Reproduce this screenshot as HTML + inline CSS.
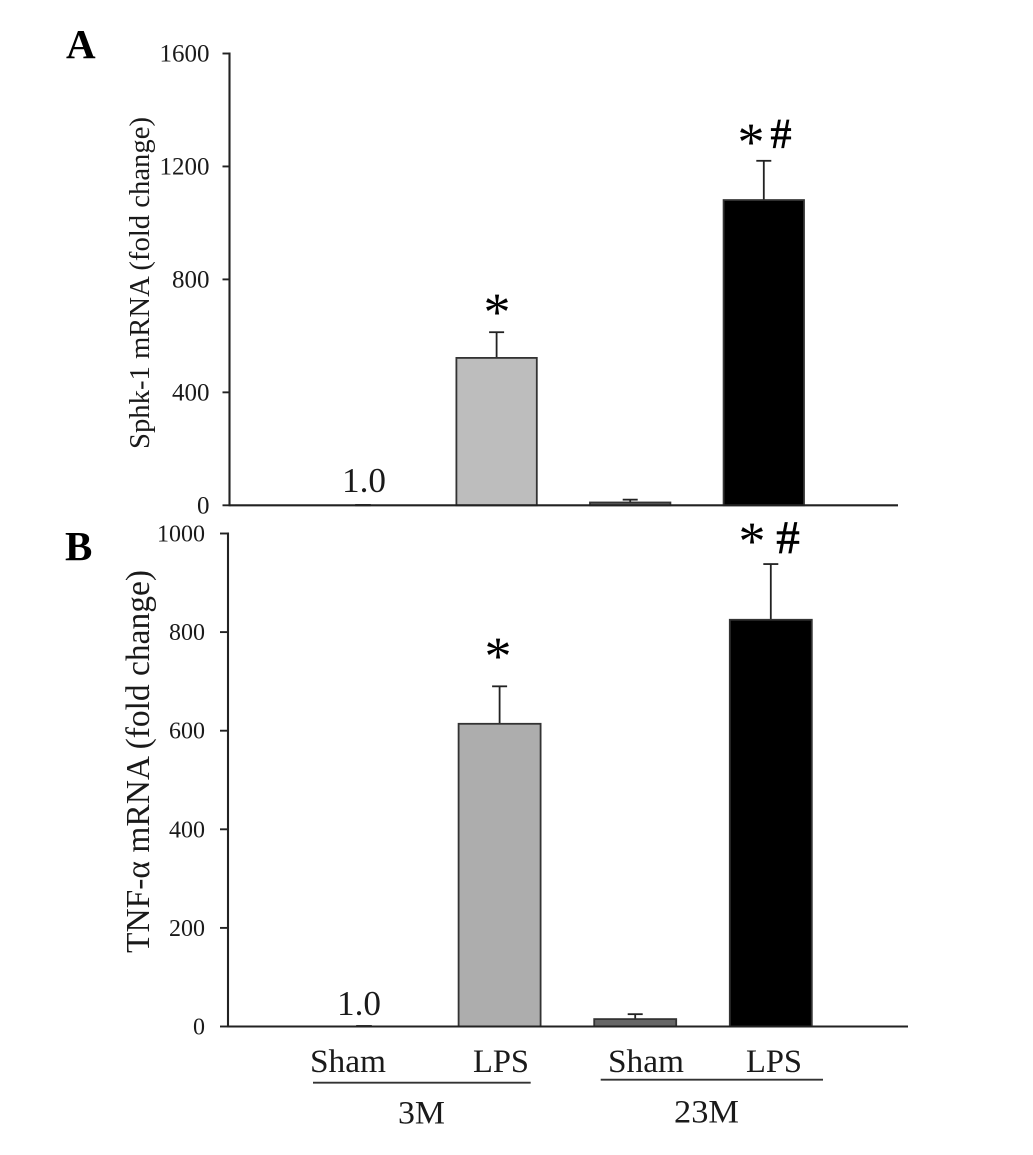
<!DOCTYPE html>
<html>
<head>
<meta charset="utf-8">
<style>
html,body{margin:0;padding:0;background:#fff;width:1033px;height:1155px;overflow:hidden}
svg{display:block;font-family:"Liberation Serif",serif}
text{fill:#1a1a1a}
</style>
</head>
<body>
<svg id="chart" xmlns="http://www.w3.org/2000/svg" width="1033" height="1155" viewBox="0 0 1033 1155">
  <text x="66" y="58" font-size="41" font-weight="bold" style="fill:#000">A</text>
  <text x="65" y="560" font-size="41" font-weight="bold" style="fill:#000">B</text>

  <text transform="translate(149,449) rotate(-90)" font-size="29" textLength="332" lengthAdjust="spacingAndGlyphs">Sphk-1 mRNA (fold change)</text>
  <text transform="translate(149,953) rotate(-90)" font-size="34" textLength="383" lengthAdjust="spacingAndGlyphs">TNF-α mRNA (fold change)</text>

  <text x="342" y="492" font-size="35" textLength="44" lengthAdjust="spacingAndGlyphs">1.0</text>
  <text x="337" y="1015" font-size="35" textLength="44" lengthAdjust="spacingAndGlyphs">1.0</text>

  <text x="497" y="330" font-size="54" text-anchor="middle" style="fill:#000">*</text>
  <text x="751" y="160" font-size="54" text-anchor="middle" style="fill:#000">*</text>
  <text x="781" y="148" font-size="42" text-anchor="middle" stroke="#000" stroke-width="0.7" style="fill:#000">#</text>
  <text x="498" y="674" font-size="54" text-anchor="middle" style="fill:#000">*</text>
  <text x="752" y="559" font-size="54" text-anchor="middle" style="fill:#000">*</text>
  <text x="788" y="553" font-size="47" text-anchor="middle" stroke="#000" stroke-width="0.7" style="fill:#000">#</text>

  <text x="310" y="1072" font-size="33" textLength="76" lengthAdjust="spacingAndGlyphs">Sham</text>
  <text x="473" y="1072" font-size="33" textLength="56" lengthAdjust="spacingAndGlyphs">LPS</text>
  <text x="608" y="1072" font-size="33" textLength="76" lengthAdjust="spacingAndGlyphs">Sham</text>
  <text x="746" y="1072" font-size="33" textLength="56" lengthAdjust="spacingAndGlyphs">LPS</text>
  <line x1="313" y1="1082.7" x2="530.7" y2="1082.7" stroke="#333" stroke-width="1.8"/>
  <line x1="600.7" y1="1079.7" x2="823" y2="1079.7" stroke="#333" stroke-width="1.8"/>
  <text x="398" y="1123.5" font-size="33" textLength="47" lengthAdjust="spacingAndGlyphs">3M</text>
  <text x="674" y="1122.7" font-size="33" textLength="65" lengthAdjust="spacingAndGlyphs">23M</text>
</svg>
<script>
var groupNames = ['sham-3m', 'lps-3m', 'sham-23m', 'lps-23m'];

var sphkValues = [1, 522, 10, 1081];
var sphkErrorTops = [1, 613, 20, 1220];
var sphkTickLabels = [0, 400, 800, 1200, 1600];
var sphkColors = ['#808080', '#bdbdbd', '#666666', '#000000'];

var tnfValues = [1, 614, 15, 825];
var tnfErrorTops = [1, 690, 25, 938];
var tnfTickLabels = [0, 200, 400, 600, 800, 1000];
var tnfColors = ['#808080', '#adadad', '#666666', '#000000'];

var NS = 'http://www.w3.org/2000/svg';
var svg = document.getElementById('chart');

function make(tag, attrs) {
  var el = document.createElementNS(NS, tag);
  for (var k in attrs) el.setAttribute(k, attrs[k]);
  svg.appendChild(el);
  return el;
}

function drawPanel(p) {
  function y(v) { return p.y0 - (v / p.max) * (p.y0 - p.y1); }
  function cx(i) { return p.c0 + i * p.step; }

  p.values.forEach(function (v, i) {
    var c = cx(i);
    var stem = make('line', {x1: c, x2: c, y1: y(v), y2: y(p.errors[i]), stroke: '#222', 'stroke-width': 1.8});
    
    
    var cap = make('line', {x1: c - 7.5, x2: c + 7.5, y1: y(p.errors[i]), y2: y(p.errors[i]), stroke: '#222', 'stroke-width': 1.8});
    
    
    var small = i === 0;
    var hw = small ? 7 : p.half;
    var bar = make('rect', {x: c - hw, y: y(v), width: hw * 2, height: p.y0 - y(v), fill: p.colors[i], stroke: '#333', 'stroke-width': 1.8});
    
    
  });

  var yAxis = make('line', {x1: p.axisX, x2: p.axisX, y1: p.y1 - 1, y2: p.y0 + 1, stroke: '#222', 'stroke-width': 2.1});
  
  
  var xAxis = make('line', {x1: p.axisX, x2: p.xEnd, y1: p.y0, y2: p.y0, stroke: '#222', 'stroke-width': 2.1});
  
  

  p.ticks.forEach(function (t) {
    var tick = make('line', {x1: p.axisX - p.tickLen, x2: p.axisX, y1: y(t), y2: y(t), stroke: '#222', 'stroke-width': 1.9});
    
    
    var label = make('text', {x: p.labelX, y: y(t) + 8, 'text-anchor': 'end', 'font-size': p.fontSize});
    
    
    label.textContent = t;
  });
}

drawPanel({
  id: 'a', values: sphkValues, errors: sphkErrorTops, ticks: sphkTickLabels, colors: sphkColors,
  max: 1600, y0: 505.3, y1: 53.5, axisX: 229.5, xEnd: 898, tickLen: 7,
  c0: 363, step: 133.6, half: 40.2, labelX: 209.5, fontSize: 25
});

drawPanel({
  id: 'b', values: tnfValues, errors: tnfErrorTops, ticks: tnfTickLabels, colors: tnfColors,
  max: 1000, y0: 1026.5, y1: 533.5, axisX: 228, xEnd: 908, tickLen: 8,
  c0: 364, step: 135.6, half: 41, labelX: 205, fontSize: 24
});
</script>
</body>
</html>
